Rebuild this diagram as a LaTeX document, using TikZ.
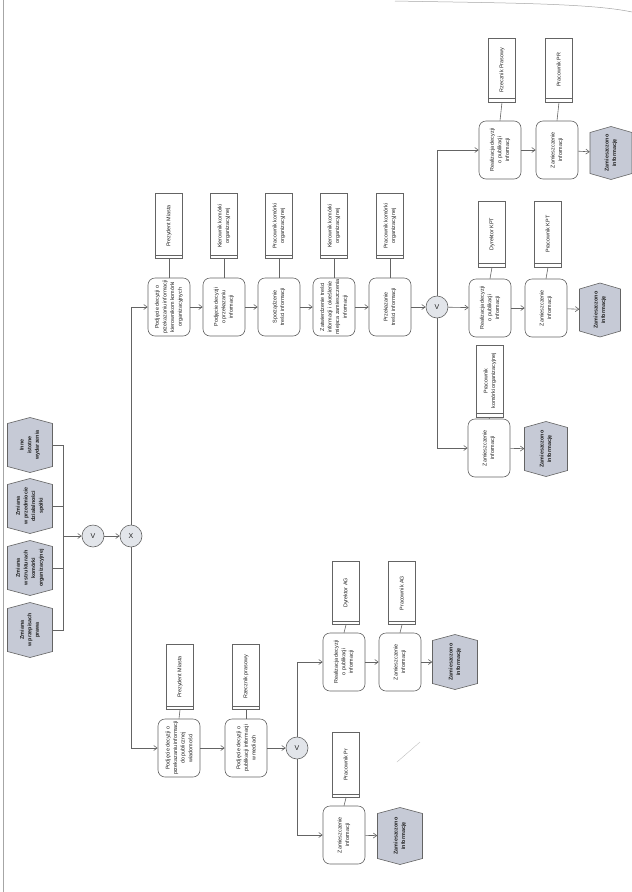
\documentclass[tikz,border=0pt]{standalone}
\usepackage{fontspec}
\setmainfont{Liberation Sans}
\usetikzlibrary{arrows.meta,calc}
\definecolor{lc}{RGB}{100,100,100}
\definecolor{evfill}{RGB}{198,202,214}
\definecolor{cfill}{RGB}{226,229,234}
\definecolor{txt}{RGB}{30,30,30}
\newcommand\rtxt[2]{\rotatebox{90}{\parbox{#1}{\centering\fontsize{5.4}{7.6}\selectfont #2}}}
\tikzset{
  act/.style={draw=lc, line width=0.6pt, rounded corners=7pt, fill=white, text=txt,
              minimum width=42pt, minimum height=58pt, inner sep=0pt},
  role/.style={draw=lc, line width=0.6pt, fill=white, text=txt,
               minimum width=27pt, inner sep=0pt},
  evshape/.style={draw=lc, line width=0.6pt, fill=evfill},
  evtxt/.style={inner sep=0pt, text=txt, font=\bfseries},
  conn/.style={circle, draw=lc, line width=0.6pt, fill=cfill, text=txt,
               minimum size=22pt, inner sep=0pt, font=\fontsize{7}{8}\selectfont},
  ln/.style={draw=lc, line width=0.6pt},
  arr/.style={draw=lc, line width=0.6pt, -{Straight Barb[length=3.5pt,width=5pt]}},
}
% activity: name, x, y, text
\newcommand\actnode[4]{\node[act] (#1) at (#2,#3) {\rtxt{56pt}{#4}};}
% role: name, x, y, height, text, activity it belongs to
\newcommand\rolenode[6]{%
  \node[role, minimum height=#4pt] (#1) at (#2,#3) {\rtxt{60pt}{#5}};
  \draw[ln] ([yshift=4pt]#1.south west) -- ([yshift=4pt]#1.south east);
  \draw[ln] (#1.south) -- (#6.north);}
% event: name, x, y, width, height, text
\newcommand\evnode[6]{%
  \filldraw[evshape] (#2-#4/2,#3-#5/2+6) -- (#2,#3-#5/2) -- (#2+#4/2,#3-#5/2+6)
     -- (#2+#4/2,#3+#5/2-6) -- (#2,#3+#5/2) -- (#2-#4/2,#3+#5/2-6) -- cycle;
  \node[evtxt, minimum width=#4pt, minimum height=#5pt] (#1) at (#2,#3) {\rtxt{46pt}{#6}};}
\begin{document}
\begin{tikzpicture}[x=1pt,y=-1pt]
\useasboundingbox (0,0) rectangle (632,892);
\fill[white] (0,0) rectangle (632,892);
% page edges of the scan
\draw[black!35, line width=0.5pt] (3,0) -- (3,892);
\draw[black!35, line width=0.5pt] (395,1) .. controls (500,3) and (590,3) .. (632,12);
\draw[black!25, line width=0.4pt] (397,762) -- (420,742);

% start events
\evnode{h1}{30}{445}{45}{55}{Inne\\ istotne\\ wydarzenia}
\evnode{h2}{30}{506}{45}{55}{Zmiana\\ w przedmiocie\\ działalności\\ spółki}
\evnode{h3}{30}{568}{45}{55}{Zmiana\\ w strukturach\\ komórki\\ organizacyjnej}
\evnode{h4}{30}{630}{45}{55}{Zmiana\\ w przepisach\\ prawa}
\coordinate (bus) at (63,536);
\draw[ln] (h1.east) -| (bus);
\draw[ln] (h2.east) -| (bus);
\draw[ln] (h3.east) -| (bus);
\draw[ln] (h4.east) -| (bus);

\node[conn] (c1) at (93,536) {V};
\node[conn] (c2) at (131,536) {X};
\draw[arr] (bus) -- (c1);
\draw[arr] (c1) -- (c2);

% upper chain
\actnode{t1}{169}{307}{Podjęcie decyzji o\\ przekazaniu informacji\\ kierownikom komórki\\ organizacyjnych}
\actnode{t2}{224}{307}{Podjęcie decyzji\\ o przekazaniu\\ informacji}
\actnode{t3}{279}{307}{Sporządzenie\\ treści informacji}
\actnode{t4}{334}{307}{Zatwierdzenie treści\\ informacji i określenie\\ miejsca zamieszczenia\\ informacji}
\actnode{t5}{390}{307}{Przekazanie\\ treści informacji}
\rolenode{rt1}{169}{226}{65}{Prezydent Miasta}{t1}
\rolenode{rt2}{224}{226}{65}{Kierownik komórki\\ organizacyjnej}{t2}
\rolenode{rt3}{279}{226}{65}{Pracownik komórki\\ organizacyjnej}{t3}
\rolenode{rt4}{334}{226}{65}{Kierownik komórki\\ organizacyjnej}{t4}
\rolenode{rt5}{390}{226}{65}{Pracownik komórki\\ organizacyjnej}{t5}
\node[conn] (c3) at (437,307) {V};
\draw[arr] (c2.north) |- (t1.west);
\draw[arr] (t1) -- (t2);
\draw[arr] (t2) -- (t3);
\draw[arr] (t3) -- (t4);
\draw[arr] (t4) -- (t5);
\draw[arr] (t5) -- (c3);

% branch A
\actnode{a1}{500}{150}{Realizacja decyzji\\ o publikacji\\ informacji}
\actnode{a2}{557}{150}{Zamieszczenie\\ informacji}
\rolenode{ra1}{502}{70}{64}{Rzecznik Prasowy}{a1}
\rolenode{ra2}{559}{70}{64}{Pracownik PR}{a2}
\evnode{a3}{611}{153}{42}{53}{Zamieszczono\\ informację}
\draw[arr] (c3.north) |- (a1.west);
\draw[arr] (a1) -- (a2);
\draw[arr] (a2) -- (a3);

% branch B
\actnode{b1}{490}{308}{Realizacja decyzji\\ o publikacji\\ informacji}
\actnode{b2}{546}{308}{Zamieszczenie\\ informacji}
\rolenode{rb1}{492}{234}{66}{Dyrektor KPT}{b1}
\rolenode{rb2}{548}{234}{66}{Pracownik KPT}{b2}
\evnode{b3}{600}{310}{41}{54}{Zamieszczono\\ informację}
\draw[arr] (c3) -- (b1);
\draw[arr] (b1) -- (b2);
\draw[arr] (b2) -- (b3);

% branch C
\actnode{cc1}{489}{448}{Zamieszczenie\\ informacji}
\rolenode{rc1}{490}{381}{72}{Pracownik\\ komórki organizacyjnej}{cc1}
\evnode{cc2}{546}{449}{43}{55}{Zamieszczono\\ informację}
\draw[arr] (c3.south) |- (cc1.west);
\draw[arr] (cc1) -- (cc2);

% lower chain
\actnode{l1}{179}{748}{Podjęcie decyzji o\\ przekazaniu informacji\\ do publicznej\\ wiadomości}
\actnode{l2}{246}{748}{Podjęcie decyzji o\\ publikacji informacji\\ w mediach}
\rolenode{rl1}{180}{677}{65}{Prezydent Miasta}{l1}
\rolenode{rl2}{246}{677}{65}{Rzecznik prasowy}{l2}
\node[conn] (c4) at (297,748) {V};
\draw[arr] (c2.south) |- (l1.west);
\draw[arr] (l1) -- (l2);
\draw[arr] (l2) -- (c4);

% branch D
\actnode{d1}{344}{662}{Realizacja decyzji\\ o publikacji\\ informacji}
\actnode{d2}{400}{662}{Zamieszczenie\\ informacji}
\rolenode{rd1}{346}{593}{63}{Dyrektor AG}{d1}
\rolenode{rd2}{402}{593}{63}{Pracownik AG}{d2}
\evnode{d3}{455}{662}{45}{55}{Zamieszczono\\ informację}
\draw[arr] (c4.north) |- (d1.west);
\draw[arr] (d1) -- (d2);
\draw[arr] (d2) -- (d3);

% branch E
\actnode{e1}{344}{835}{Zamieszczenie\\ informacji}
\rolenode{re1}{346}{765}{65}{Pracownik Pr}{e1}
\evnode{e2}{400}{836}{45}{57}{Zamieszczono\\ informację}
\draw[arr] (c4.south) |- (e1.west);
\draw[arr] (e1) -- (e2);
\end{tikzpicture}
\end{document}
